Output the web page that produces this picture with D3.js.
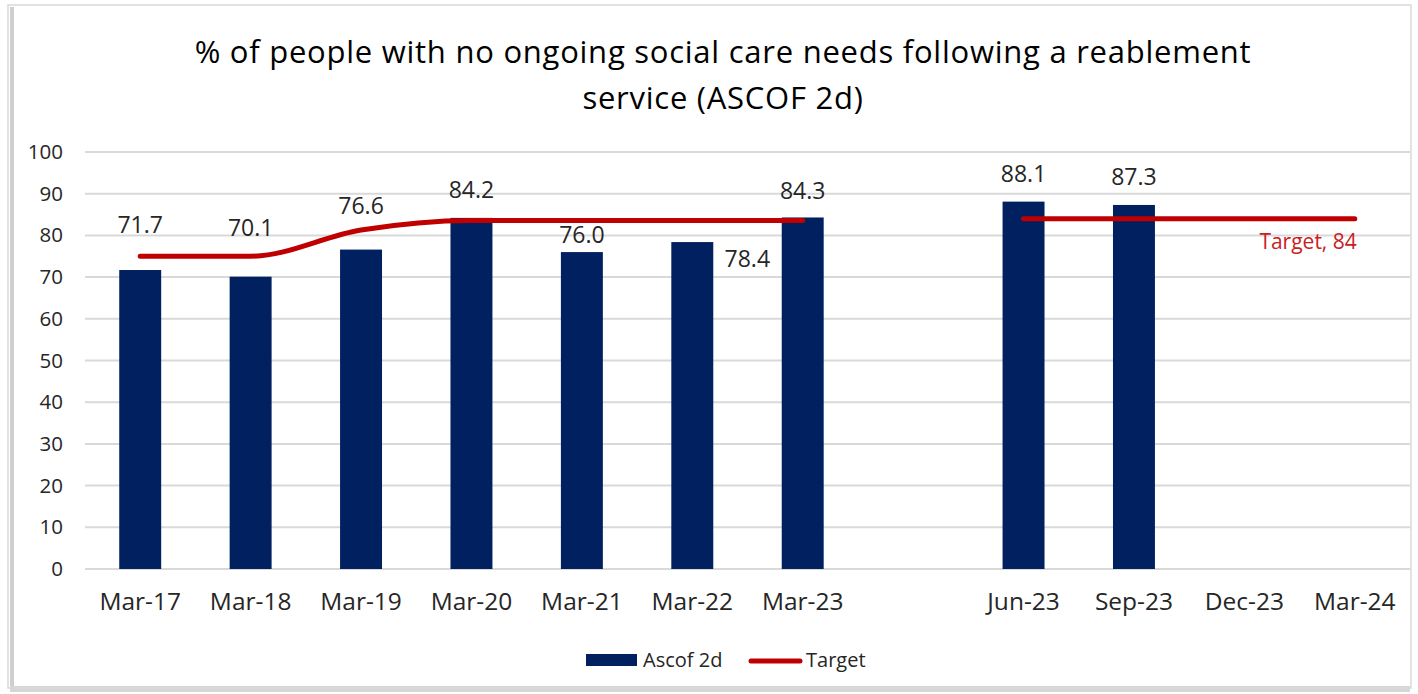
<!DOCTYPE html>
<html>
<head>
<meta charset="utf-8">
<script src="https://cdn.jsdelivr.net/npm/d3@7"></script>
<style>
  body { margin: 0; background: #fff; }
  svg { display: block; font-family: "Open Sans", sans-serif; }
</style>
</head>
<body>
<div id="chart"></div>
<script>
// chart data
const categories = ["Mar-17", "Mar-18", "Mar-19", "Mar-20", "Mar-21", "Mar-22", "Mar-23", "",
                    "Jun-23", "Sep-23", "Dec-23", "Mar-24"];
const ascofValues = [71.7, 70.1, 76.6, 84.2, 76.0, 78.4, 84.3, null, 88.1, 87.3, null, null];
const targetValues = [75, 75, 81.3, 83.6, 83.6, 83.6, 83.6, null, 84, 84, 84, 84];
const yTicks = [0, 10, 20, 30, 40, 50, 60, 70, 80, 90, 100];
const titleLines = ["% of people with no ongoing social care needs following a reablement",
                    "service (ASCOF 2d)"];

// where each bar label sits relative to its bar top (manual placement like the original)
const labelNudge = [[0, -45], [0, -49], [0, -44], [0, -28], [0, -17], [55, 17], [0, -27], null,
                    [0, -28], [0, -28], null, null];

const W = 1418, H = 694;
const plot = { left: 85, right: 1410, top: 152, bottom: 569 };

const svg = d3.select("#chart").append("svg")
    .attr("width", W)
    .attr("height", H);

// frame with a soft shadow, as pasted from Excel
svg.append("rect").attr("x", 0).attr("y", 0).attr("width", W).attr("height", H).attr("fill", "#fff");
svg.append("rect").attr("x", 10).attr("y", 7).attr("width", 4).attr("height", 681).attr("fill", "#cfcfcf");
svg.append("rect").attr("x", 10).attr("y", 686).attr("width", 1400).attr("height", 6).attr("fill", "#d6d6d6");
svg.append("rect").attr("x", 8).attr("y", 5).attr("width", 1403).attr("height", 683)
    .attr("fill", "none").attr("stroke", "#d9d9d9").attr("stroke-width", 1.5);

const x = d3.scaleBand()
    .domain(d3.range(categories.length))
    .range([plot.left, plot.right])
    .paddingInner(0.62)
    .paddingOuter(0.31);

const y = d3.scaleLinear()
    .domain([0, 100])
    .range([plot.bottom, plot.top]);

// gridlines
svg.append("g")
    .selectAll("line")
    .data(yTicks)
    .join("line")
    .attr("x1", plot.left)
    .attr("x2", plot.right)
    .attr("y1", d => y(d))
    .attr("y2", d => y(d))
    .attr("stroke", "#d9d9d9")
    .attr("stroke-width", 2);

// y axis labels
const yAxis = svg.append("g")
    .attr("transform", `translate(${plot.left},0)`)
    .call(d3.axisLeft(y).tickValues(yTicks).tickSize(0).tickPadding(22));
yAxis.select(".domain").remove();
yAxis.selectAll("text")
    .attr("font-family", "Open Sans, sans-serif")
    .attr("font-size", 20.5)
    .attr("fill", "#262626");

// x axis labels
const xAxis = svg.append("g")
    .attr("transform", `translate(0,${plot.bottom})`)
    .call(d3.axisBottom(x).tickFormat(i => categories[i]).tickSize(0).tickPadding(24));
xAxis.select(".domain").remove();
xAxis.selectAll("text")
    .attr("font-family", "Open Sans, sans-serif")
    .attr("font-size", 24.5)
    .attr("fill", "#262626");

// bars
const barData = ascofValues.map((v, i) => ({ i, v })).filter(d => d.v !== null);
svg.append("g")
    .selectAll("rect")
    .data(barData)
    .join("rect")
    .attr("x", d => x(d.i))
    .attr("width", x.bandwidth())
    .attr("y", d => y(d.v))
    .attr("height", d => y(0) - y(d.v))
    .attr("fill", "#002060");

// target line (broken at the gap)
const line = d3.line()
    .defined(d => d.v !== null)
    .x(d => x(d.i) + x.bandwidth() / 2)
    .y(d => y(d.v))
    .curve(d3.curveMonotoneX);

svg.append("path")
    .datum(targetValues.map((v, i) => ({ i, v })))
    .attr("d", line)
    .attr("fill", "none")
    .attr("stroke", "#c00000")
    .attr("stroke-width", 5)
    .attr("stroke-linecap", "round")
    .attr("stroke-linejoin", "round");

// bar value labels
svg.append("g")
    .selectAll("text")
    .data(barData)
    .join("text")
    .attr("x", d => x(d.i) + x.bandwidth() / 2 + labelNudge[d.i][0])
    .attr("y", d => y(d.v) + labelNudge[d.i][1])
    .attr("dy", "0.35em")
    .attr("text-anchor", "middle")
    .attr("font-size", 23)
    .attr("fill", "#262626")
    .text(d => d.v.toFixed(1));

// end label for target
const lastIdx = targetValues.length - 1;
svg.append("text")
    .attr("x", x(lastIdx) + x.bandwidth() / 2 + 2)
    .attr("y", y(targetValues[lastIdx]) + 23)
    .attr("dy", "0.35em")
    .attr("text-anchor", "end")
    .attr("font-size", 21)
    .attr("fill", "#c9211e")
    .text(`Target, ${targetValues[lastIdx]}`);

// title
svg.append("g")
    .selectAll("text")
    .data(titleLines)
    .join("text")
    .attr("x", 723)
    .attr("y", (d, i) => 52 + i * 46)
    .attr("dy", "0.35em")
    .attr("text-anchor", "middle")
    .attr("font-size", 31)
    .attr("letter-spacing", 0.75)
    .attr("fill", "#000")
    .text(d => d);

// legend
const legend = svg.append("g").attr("font-size", 20).attr("fill", "#262626");
legend.append("rect").attr("x", 586).attr("y", 654).attr("width", 51).attr("height", 12).attr("fill", "#002060");
legend.append("text").attr("x", 643).attr("y", 660).attr("dy", "0.35em").text("Ascof 2d");
legend.append("line").attr("x1", 751).attr("x2", 800).attr("y1", 661).attr("y2", 661)
    .attr("stroke", "#c00000").attr("stroke-width", 5).attr("stroke-linecap", "round");
legend.append("text").attr("x", 806).attr("y", 660).attr("dy", "0.35em").text("Target");
</script>
</body>
</html>
